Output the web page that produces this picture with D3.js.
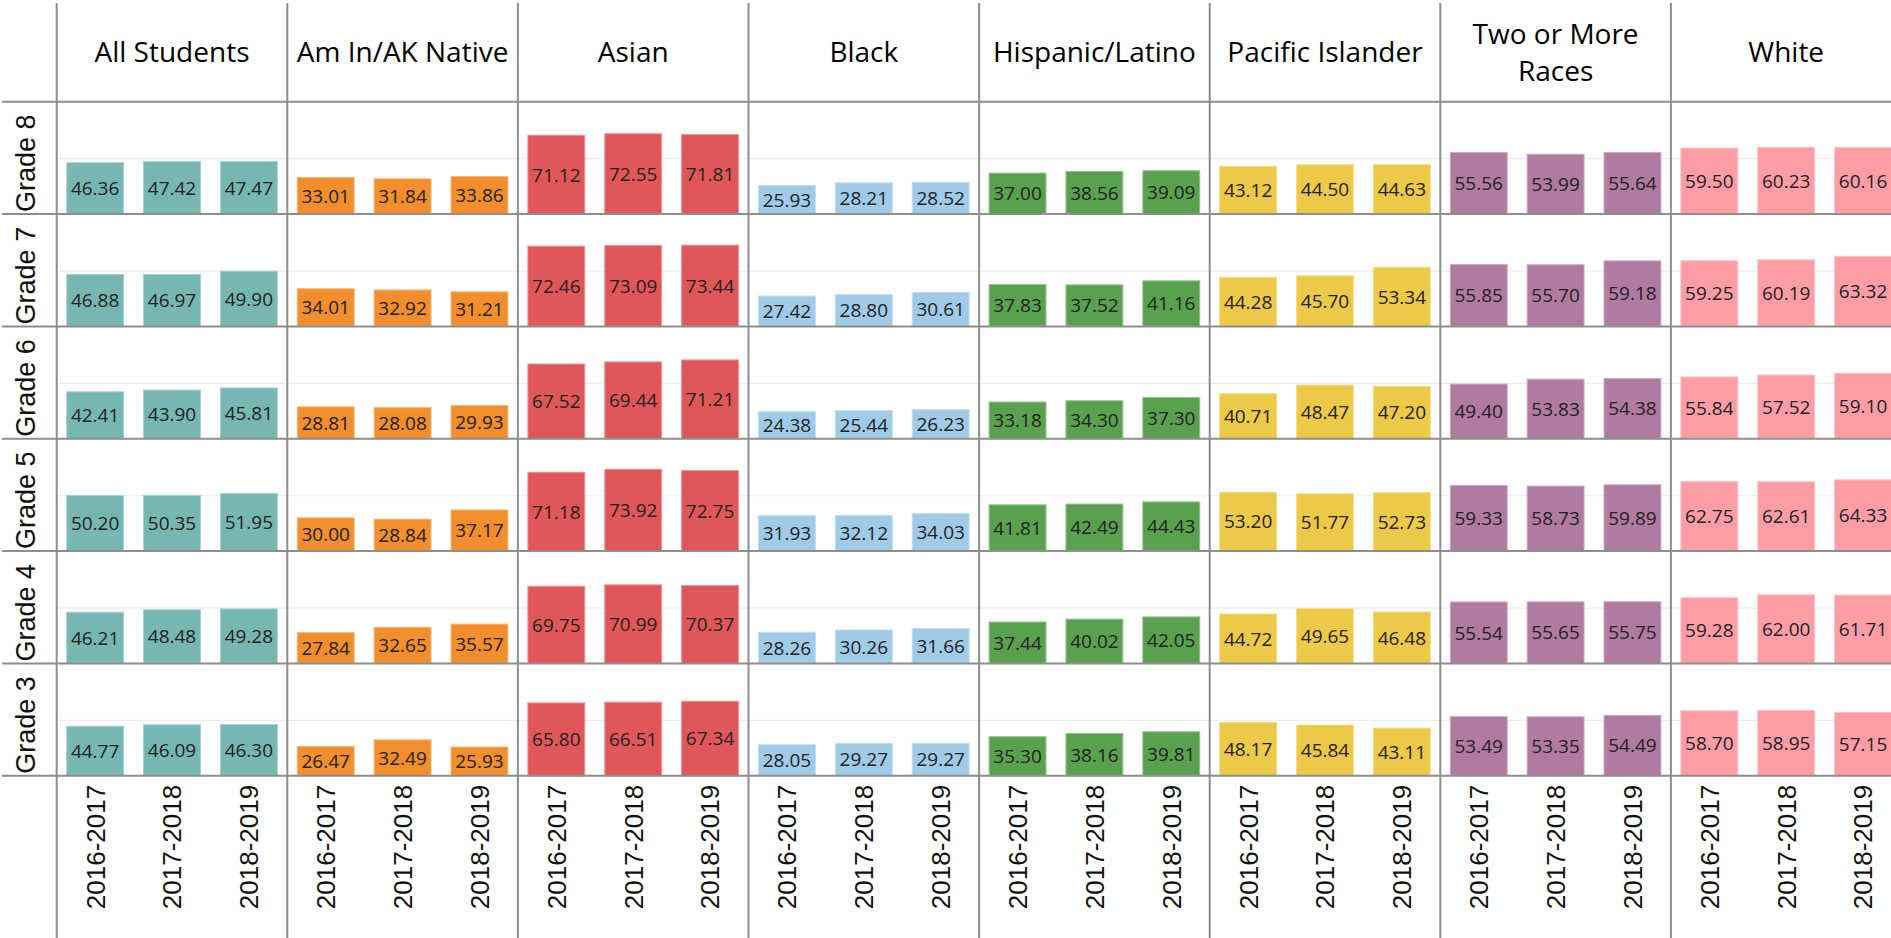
<!DOCTYPE html>
<html>
<head>
<meta charset="utf-8">
<script src="https://cdn.jsdelivr.net/npm/d3@7"></script>
<style>
  html, body { margin: 0; padding: 0; background: #ffffff; overflow: hidden; }
  svg { display: block; }
</style>
</head>
<body>
<svg id="chart" width="1891" height="938"></svg>
<script>
// ---------------- DATA ----------------
const groups = ["All Students", "Am In/AK Native", "Asian", "Black", "Hispanic/Latino", "Pacific Islander", "Two or More Races", "White"];
const grades = ["Grade 8", "Grade 7", "Grade 6", "Grade 5", "Grade 4", "Grade 3"];
const years = ["2016-2017", "2017-2018", "2018-2019"];
const groupColors = ["#76b7b2", "#f28e2b", "#e15759", "#a0cbe8", "#59a14f", "#edc948", "#b07aa1", "#ff9da7"];
const yTicks = [50];

// values per grade: one row per group, three school years each
const grade8 = [
  [46.36, 47.42, 47.47], [33.01, 31.84, 33.86], [71.12, 72.55, 71.81], [25.93, 28.21, 28.52],
  [37.00, 38.56, 39.09], [43.12, 44.50, 44.63], [55.56, 53.99, 55.64], [59.50, 60.23, 60.16]
];
const grade7 = [
  [46.88, 46.97, 49.90], [34.01, 32.92, 31.21], [72.46, 73.09, 73.44], [27.42, 28.80, 30.61],
  [37.83, 37.52, 41.16], [44.28, 45.70, 53.34], [55.85, 55.70, 59.18], [59.25, 60.19, 63.32]
];
const grade6 = [
  [42.41, 43.90, 45.81], [28.81, 28.08, 29.93], [67.52, 69.44, 71.21], [24.38, 25.44, 26.23],
  [33.18, 34.30, 37.30], [40.71, 48.47, 47.20], [49.40, 53.83, 54.38], [55.84, 57.52, 59.10]
];
const grade5 = [
  [50.20, 50.35, 51.95], [30.00, 28.84, 37.17], [71.18, 73.92, 72.75], [31.93, 32.12, 34.03],
  [41.81, 42.49, 44.43], [53.20, 51.77, 52.73], [59.33, 58.73, 59.89], [62.75, 62.61, 64.33]
];
const grade4 = [
  [46.21, 48.48, 49.28], [27.84, 32.65, 35.57], [69.75, 70.99, 70.37], [28.26, 30.26, 31.66],
  [37.44, 40.02, 42.05], [44.72, 49.65, 46.48], [55.54, 55.65, 55.75], [59.28, 62.00, 61.71]
];
const grade3 = [
  [44.77, 46.09, 46.30], [26.47, 32.49, 25.93], [65.80, 66.51, 67.34], [28.05, 29.27, 29.27],
  [35.30, 38.16, 39.81], [48.17, 45.84, 43.11], [53.49, 53.35, 54.49], [58.70, 58.95, 57.15]
];
const gradeValues = [grade8, grade7, grade6, grade5, grade4, grade3];

// ---------------- LAYOUT ----------------
const W = 1891, H = 938;
const leftX = 56.7;
const colW = 230.6;
const headerTop = 3;
const headerBottom = 101.7;
const rowH = 112.35;
const yMax = 101.5;
const lineColor = "#8e8e8e";

const svg = d3.select("#chart");

const colScale = d3.scaleBand().domain(groups).range([leftX, leftX + colW * groups.length]).padding(0);
const rowScale = d3.scaleBand().domain(grades).range([headerBottom, headerBottom + rowH * grades.length]).padding(0);
const xScale = d3.scaleBand().domain(years).range([0, colW]).paddingInner(0.26).paddingOuter(0.13);
const yScale = d3.scaleLinear().domain([0, yMax]).range([rowH, 0]);

// flatten
const cells = [];
grades.forEach((g, gi) => {
  groups.forEach((grp, ci) => {
    years.forEach((yr, yi) => {
      cells.push({ grade: g, group: grp, year: yr, value: gradeValues[gi][ci][yi], color: groupColors[ci] });
    });
  });
});

// gridlines
const panels = [];
grades.forEach(g => groups.forEach(grp => panels.push({ grade: g, group: grp })));
const grid = svg.append("g");
panels.forEach(p => {
  const gp = grid.append("g").attr("transform", `translate(${colScale(p.group)},${rowScale(p.grade)})`);
  gp.selectAll("line").data(yTicks).join("line")
    .attr("x1", 0).attr("x2", colW)
    .attr("y1", d => yScale(d)).attr("y2", d => yScale(d))
    .attr("stroke", "#ededed").attr("stroke-width", 1.2);
});

// bars
const barG = svg.append("g");
const barGroups = barG.selectAll("g.bar").data(cells).join("g")
  .attr("class", "bar")
  .attr("transform", d => `translate(${colScale(d.group) + xScale(d.year)},${rowScale(d.grade)})`);

barGroups.append("rect")
  .attr("x", 0)
  .attr("y", d => yScale(d.value))
  .attr("width", xScale.bandwidth())
  .attr("height", d => yScale(0) - yScale(d.value))
  .attr("fill", d => d.color)
  .attr("stroke", d => d3.interpolateRgb(d.color, "#ffffff")(0.35))
  .attr("stroke-width", 1);

barGroups.append("text")
  .attr("x", xScale.bandwidth() / 2)
  .attr("y", d => (yScale(d.value) + yScale(0)) / 2)
  .attr("dy", "0.36em")
  .attr("text-anchor", "middle")
  .attr("font-family", "'Open Sans', sans-serif")
  .attr("font-size", 19)
  .attr("fill", "#222")
  .text(d => d3.format(".2f")(d.value));

// grid lines (structure)
const lines = svg.append("g");
d3.range(grades.length + 1).forEach(i => {
  const y = headerBottom + i * rowH;
  lines.append("line").attr("x1", 2).attr("x2", W).attr("y1", y).attr("y2", y)
    .attr("stroke", lineColor).attr("stroke-width", 2);
});
d3.range(groups.length + 1).forEach(j => {
  const x = leftX + j * colW;
  lines.append("line").attr("x1", x).attr("x2", x).attr("y1", headerTop).attr("y2", H)
    .attr("stroke", lineColor).attr("stroke-width", 2);
});

// column headers
const headerFont = 28;
const headerG = svg.append("g");
function wrapLines(text, maxW) {
  const words = text.split(" ");
  const tmp = svg.append("text").attr("font-family", "'Open Sans', sans-serif").attr("font-size", headerFont);
  const out = [];
  let cur = "";
  words.forEach(w => {
    const test = cur ? cur + " " + w : w;
    tmp.text(test);
    if (tmp.node().getComputedTextLength() > maxW && cur) {
      out.push(cur);
      cur = w;
    } else cur = test;
  });
  out.push(cur);
  tmp.remove();
  return out;
}
groups.forEach(grp => {
  const ls = wrapLines(grp, colW - 8);
  const cx = colScale(grp) + colW / 2;
  const cy = (headerTop + headerBottom) / 2;
  const lh = 37;
  const t = headerG.append("text")
    .attr("text-anchor", "middle")
    .attr("font-family", "'Open Sans', sans-serif")
    .attr("font-size", headerFont)
    .attr("fill", "#000");
  ls.forEach((l, i) => {
    t.append("tspan")
      .attr("x", cx)
      .attr("y", cy + (i - (ls.length - 1) / 2) * lh)
      .attr("dy", "0.36em")
      .text(l);
  });
});

// row labels (rotated)
svg.append("g").selectAll("text").data(grades).join("text")
  .attr("transform", d => `translate(35,${rowScale(d) + rowH - 2}) rotate(-90)`)
  .attr("text-anchor", "start")
  .attr("font-family", "'Liberation Sans', Arial, sans-serif")
  .attr("font-size", 27)
  .attr("fill", "#111")
  .text(d => d);

// x axis labels per column (rotated)
const axisY = headerBottom + rowH * grades.length + 9;
groups.forEach(grp => {
  const ax = svg.append("g").attr("transform", `translate(${colScale(grp)},${axisY})`);
  const axis = d3.axisBottom(xScale).tickSize(0).tickPadding(0);
  ax.call(axis);
  ax.select(".domain").remove();
  ax.selectAll(".tick text")
    .attr("transform", "rotate(-90)")
    .attr("x", 0)
    .attr("y", 0)
    .attr("dy", "0.36em")
    .attr("text-anchor", "end")
    .attr("font-family", "'Liberation Sans', Arial, sans-serif")
    .attr("font-size", 26)
    .attr("fill", "#111");
});
</script>
</body>
</html>
